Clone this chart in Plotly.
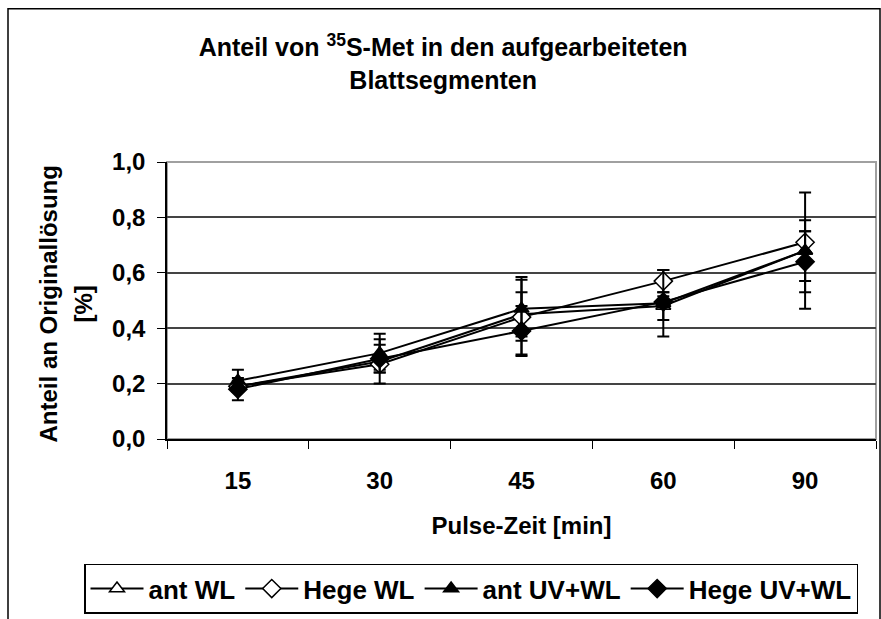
import plotly.graph_objects as go

# Pulse-Zeit [min]
categories = ["15", "30", "45", "60", "90"]

series_names = ["ant WL", "Hege WL", "ant UV+WL", "Hege UV+WL"]
ant_wl = [0.19, 0.28, 0.45, 0.48, 0.68]
ant_wl_err = [0.02, 0.08, 0.08, 0.05, 0.21]
hege_wl = [0.19, 0.27, 0.44, 0.57, 0.71]
hege_wl_err = [0.02, 0.02, 0.135, 0.04, 0.04]
ant_uvwl = [0.21, 0.31, 0.47, 0.49, 0.68]
ant_uvwl_err = [0.04, 0.07, 0.115, 0.12, 0.11]
hege_uvwl = [0.18, 0.29, 0.39, 0.495, 0.64]
hege_uvwl_err = [0.04, 0.05, 0.09, 0.02, 0.11]

y_ticks = [0.0, 0.2, 0.4, 0.6, 0.8, 1.0]
y_ticklabels = ["0,0", "0,2", "0,4", "0,6", "0,8", "1,0"]

FONT = "Liberation Sans, Arial, sans-serif"

fig = go.Figure()

styles = [
    dict(symbol="triangle-up", color="white", size=13),
    dict(symbol="diamond", color="white", size=14),
    dict(symbol="triangle-up", color="black", size=13),
    dict(symbol="diamond", color="black", size=14),
]
values = [(ant_wl, ant_wl_err), (hege_wl, hege_wl_err),
          (ant_uvwl, ant_uvwl_err), (hege_uvwl, hege_uvwl_err)]

for name, (vals, errs), st in zip(series_names, values, styles):
    fig.add_trace(go.Scatter(
        x=categories, y=vals, name=name, mode="lines+markers",
        line=dict(color="black", width=2),
        marker=dict(symbol=st["symbol"], color=st["color"], size=st["size"],
                    line=dict(color="black", width=1.5)),
        error_y=dict(type="data", array=errs, visible=True,
                     color="black", thickness=2, width=6),
    ))

# outer chart border (paper coords relative to plot area 167..876 x 162..442)
fig.add_shape(type="rect", xref="paper", yref="paper",
              x0=(8 - 167) / 709, x1=(880 - 167) / 709,
              y0=(442 - 660) / 280, y1=(442 - 7) / 280,
              line=dict(color="black", width=1.5), fillcolor="rgba(0,0,0,0)",
              layer="below")
# plot area border (grey, top and right)
fig.add_shape(type="rect", xref="paper", yref="paper", x0=0, x1=1, y0=0, y1=1,
              line=dict(color="#a0a0a0", width=2), layer="below")

fig.add_annotation(text="<b>Anteil an Originallösung</b>", xref="paper", yref="paper",
                   x=(48 - 167) / 709, y=(442 - 306) / 280, textangle=-90, showarrow=False,
                   xanchor="center", yanchor="middle",
                   font=dict(family=FONT, size=24, color="black"))
fig.add_annotation(text="<b>[%]</b>", xref="paper", yref="paper",
                   x=(83 - 167) / 709, y=(442 - 306) / 280, textangle=-90, showarrow=False,
                   xanchor="center", yanchor="middle",
                   font=dict(family=FONT, size=24, color="black"))

fig.update_layout(
    width=881, height=619,
    margin=dict(l=167, r=5, t=162, b=173),
    paper_bgcolor="white", plot_bgcolor="white",
    font=dict(family=FONT, size=24, color="black"),
    title=dict(text="<b>Anteil von <sup>35</sup>S-Met in den aufgearbeiteten<br>Blattsegmenten</b>",
               x=0.503, xref="container", xanchor="center", y=1 - 56 / 619, yanchor="middle",
               font=dict(family=FONT, size=25, color="black")),
    xaxis=dict(type="category", range=[-0.5, 4.5], tickson="boundaries",
               ticks="outside", ticklen=8, tickcolor="black", ticklabelstandoff=19,
               showline=True, linecolor="black", linewidth=1.5, showgrid=False,
               tickfont=dict(family=FONT, size=24, weight="bold"),
               title=dict(text="<b>Pulse-Zeit [min]</b>", standoff=25,
                          font=dict(family=FONT, size=24))),
    yaxis=dict(range=[0, 1.0], tickvals=y_ticks, ticktext=y_ticklabels,
               ticks="outside", ticklen=8, tickcolor="black", ticklabelstandoff=7,
               showline=True, linecolor="black", linewidth=1.5,
               showgrid=True, gridcolor="#444444", gridwidth=1.5, zeroline=False,
               tickfont=dict(family=FONT, size=24, weight="bold")),
    legend=dict(orientation="h", x=(84 - 167) / 709, y=(442 - 568) / 280,
                xanchor="left", yanchor="top", bordercolor="black", borderwidth=1.5,
                bgcolor="white", font=dict(family=FONT, size=26, weight="bold"),
                itemwidth=53, tracegroupgap=0),
    showlegend=True,
)

fig.write_html("out.html", config={"displayModeBar": False},
               post_script="document.body.style.margin='0px';")
